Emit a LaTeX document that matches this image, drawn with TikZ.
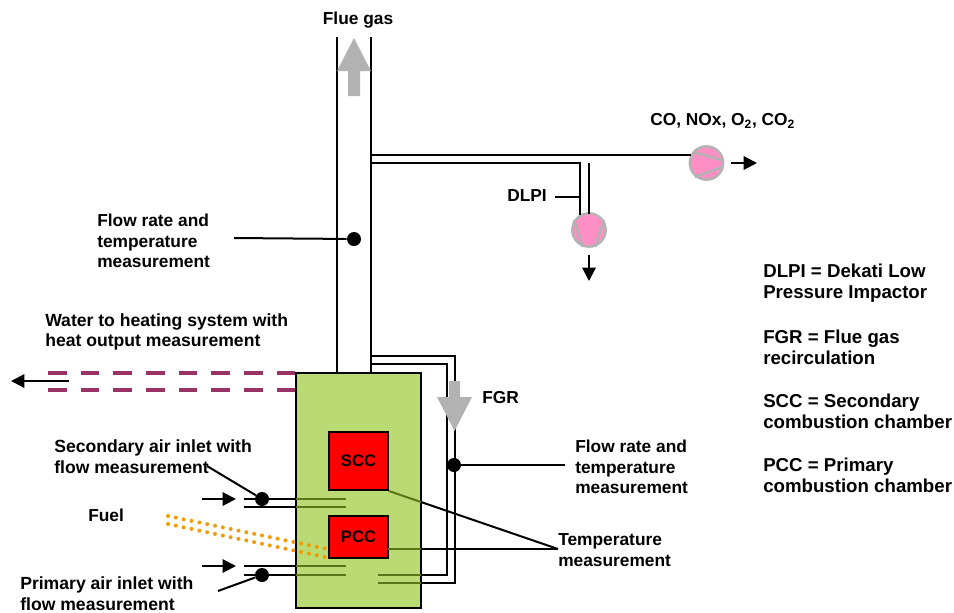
\documentclass[tikz,border=0pt]{standalone}
\usepackage{fontspec}
\setmainfont{Liberation Sans}
\usetikzlibrary{arrows.meta}
\definecolor{boilergreen}{HTML}{BADB74}
\definecolor{pipeolive}{HTML}{5A7518}
\definecolor{waterpurple}{HTML}{993366}
\definecolor{pumppink}{HTML}{FF8FC4}
\definecolor{flowgray}{HTML}{B2B2B2}
\definecolor{fuelorange}{HTML}{F59A00}
\tikzset{
    pipe/.style={black, line width=1.5pt},
    pipein/.style={pipeolive, line width=1.5pt},
    leader/.style={black, line width=1.5pt},
    flowarrow/.style={black, line width=1.5pt, -{Triangle[length=10pt,width=10pt]}},
    label/.style={font=\bfseries\fontsize{13}{15.5}\selectfont, align=left, anchor=west, inner sep=0pt},
    widelabel/.style={label, font=\bfseries\fontsize{13.2}{15.5}\selectfont},
    keylabel/.style={label, font=\bfseries\fontsize{14}{16}\selectfont},
    sensor/.style={circle, fill=black, minimum size=10.5pt, inner sep=0pt},
    chamber/.style={draw=black, line width=1.5pt, fill=red, inner sep=0pt, font=\bfseries\fontsize{12.5}{14}\selectfont},
    pump/.style={circle, draw=flowgray, line width=1.8pt, fill=pumppink, minimum size=25pt, inner sep=0pt},
    vane/.style={flowgray, line width=1.8pt},
    fueldots/.style={fuelorange, line width=3pt, line cap=round, dash pattern=on 0pt off 6pt},
    waterdash/.style={waterpurple, line width=3pt, dash pattern=on 14pt off 10.5pt}
}
\begin{document}
\begin{tikzpicture}[x=0.75pt, y=-0.75pt]
    \useasboundingbox (0,0) rectangle (954,612);

    % Flue gas stack
    \draw[pipe] (337,37) -- (337,373);
    \draw[pipe] (371,37) -- (371,373);
    \fill[flowgray] (354,38) -- (371,71) -- (360,71) -- (360,96) -- (348,96) -- (348,71) -- (337,71) -- cycle;
    \node[label, anchor=center] (fluegas) at (358,20) {Flue gas};

    % Sampling lines
    \node[pump] (gaspump) at (706.5,163) {};
    \node[pump] (dlpipump) at (589,230) {};
    \draw[pipe] (371,155) -- (691,155);
    \draw[pipe] (371,163) -- (580,163) -- (580,215);
    \draw[pipe] (589,163) -- (589,214);
    \draw[vane] (693,152) -- (722,160);
    \draw[vane] (695,177) -- (722,167);
    \draw[vane] (574,220) -- (583,247);
    \draw[vane] (604,220) -- (595,247);
    \coordinate (gasout) at (757,163);
    \coordinate (dlpiout) at (589,281);
    \draw[flowarrow] (731,163) -- (gasout);
    \draw[flowarrow] (589,255) -- (dlpiout);
    \node[label] (gaslabel) at (650,121) {CO, NOx, O\textsubscript{2}, CO\textsubscript{2}};
    \node[label] (dlpilabel) at (507,196) {DLPI};
    \coordinate (dlpijoin) at (580,197);
    \draw[leader] (555,197) -- (dlpijoin);

    % Flow measurement in the stack
    \node[sensor] (stackdot) at (354,239) {};
    \coordinate (stackstart) at (234,238);
    \draw[leader] (stackstart) -- (stackdot);
    \node[label] (stacklabel) at (97,241) {Flow rate and\\temperature\\measurement};

    % Water line
    \draw[waterdash] (48,373) -- (296,373);
    \draw[waterdash] (48,390) -- (296,390);
    \coordinate (waterstart) at (69,381);
    \coordinate (waterend) at (11,381);
    \draw[flowarrow] (waterstart) -- (waterend);
    \node[widelabel] (waterlabel) at (45,332) {Water to heating system with\\heat output measurement};

    % Flue gas recirculation
    \draw[pipe] (371,356) -- (455,356) -- (455,583) -- (421,583);
    \draw[pipe] (371,364) -- (447,364) -- (447,575) -- (421,575);
    \fill[flowgray] (449,381) -- (460,381) -- (460,397) -- (472,397) -- (454.5,431) -- (437,397) -- (449,397) -- cycle;
    \node[label] (fgrlabel) at (482,398) {FGR};
    \node[sensor] (fgrdot) at (454,465) {};
    \coordinate (fgrend) at (565,465);
    \draw[leader] (fgrdot) -- (fgrend);
    \node[label] (fgrflow) at (575,467) {Flow rate and\\temperature\\measurement};

    % Boiler
    \node[draw=black, line width=1.5pt, fill=boilergreen, minimum width=94pt, minimum height=176pt, inner sep=0pt, anchor=north west] (boiler) at (294.5,372) {};
    \node[chamber, minimum width=44pt, minimum height=43.5pt] (scc) at (358.5,461) {SCC};
    \node[chamber, minimum width=44pt, minimum height=32pt] (pcc) at (358.5,537) {PCC};

    % Lines inside the boiler
    \draw[pipein] (378,575) -- (421,575);
    \draw[pipein] (378,583) -- (421,583);

    % Air inlets
    \node[sensor] (secdot) at (262,499) {};
    \node[sensor] (pridot) at (262,575) {};
    \draw[pipe] (244,499) -- (295.5,499);
    \draw[pipe] (244,507) -- (295.5,507);
    \draw[pipe] (244,566) -- (295.5,566);
    \draw[pipe] (244,575) -- (295.5,575);
    \draw[pipein] (295.5,499) -- (346,499);
    \draw[pipein] (295.5,507) -- (346,507);
    \draw[pipein] (295.5,566) -- (346,566);
    \draw[pipein] (295.5,575) -- (346,575);
    \coordinate (secin) at (202,499);
    \coordinate (priin) at (202,566);
    \draw[flowarrow] (secin) -- (236,499);
    \draw[flowarrow] (priin) -- (236,566);
    \coordinate (secstart) at (207,466);
    \coordinate (pristart) at (218,591);
    \draw[leader] (secstart) -- (secdot);
    \draw[leader] (pristart) -- (pridot);
    \node[widelabel] (seclabel) at (54,457) {Secondary air inlet with\\flow measurement};
    \node[widelabel] (prilabel) at (20,594) {Primary air inlet with\\flow measurement};

    % Fuel
    \draw[fueldots] (168,516) -- (325,548.5);
    \draw[fueldots] (168,524) -- (325,557);
    \node[label] (fuellabel) at (88,515) {Fuel};

    % Temperature measurement
    \coordinate (tempjoin) at (558,549);
    \draw[pipein] (scc.south east) -- (421,502);
    \draw[leader] (421,502) -- (tempjoin);
    \draw[pipein] (388,549) -- (421,549);
    \draw[leader] (421,549) -- (tempjoin);
    \node[label] (templabel) at (558,550) {Temperature\\measurement};

    % Abbreviations
    \node[keylabel] (dlpikey) at (763,283) {DLPI = Dekati Low\\Pressure Impactor};
    \node[keylabel] (fgrkey) at (763,347) {FGR = Flue gas\\recirculation};
    \node[keylabel] (scckey) at (763,411) {SCC = Secondary\\combustion chamber};
    \node[keylabel] (pcckey) at (763,475) {PCC = Primary\\combustion chamber};
\end{tikzpicture}
\end{document}
